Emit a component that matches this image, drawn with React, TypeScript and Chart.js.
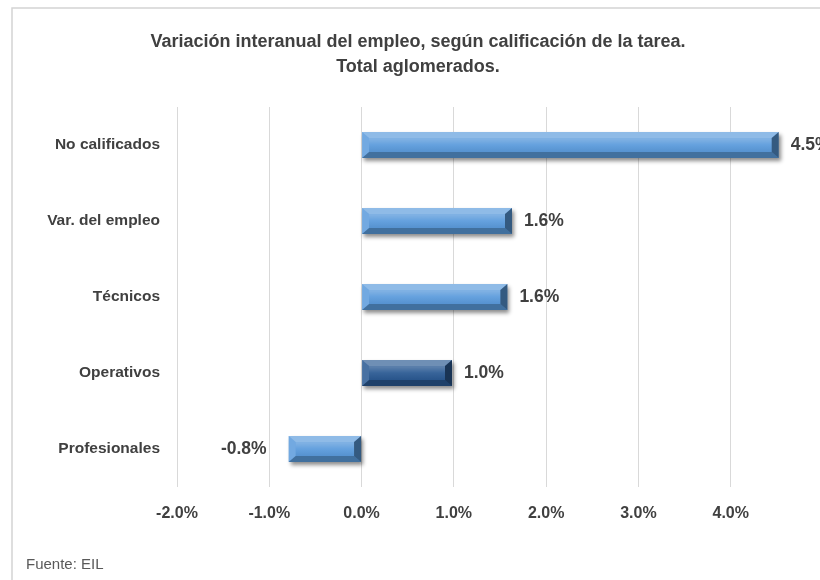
import React, { useEffect, useRef } from "react";
import { Chart, registerables } from "chart.js";

Chart.register(...registerables);

const categories = ["No calificados", "Var. del empleo", "Técnicos", "Operativos", "Profesionales"];
const values = [4.52, 1.63, 1.58, 0.98, -0.79];
const barColors = ["#5B9BDC", "#5B9BDC", "#5B9BDC", "#2B5A93", "#5B9BDC"];
const titleLines = ["Variación interanual del empleo, según calificación de la tarea.", "Total aglomerados."];
const sourceText = "Fuente: EIL";
const xMin = -2;
const xMax = 5;
const xStep = 1;

const FONT = "'Liberation Sans', Arial, sans-serif";
const TEXT = "#404040";
const CANVAS_W = 840;
const CANVAS_H = 580;

const framePlugin = {
  id: "frame",
  beforeDraw(chart: any) {
    const ctx = chart.ctx;
    ctx.save();
    ctx.fillStyle = "#ffffff";
    ctx.fillRect(0, 0, chart.width, chart.height);
    ctx.strokeStyle = "#D4D4D4";
    ctx.lineWidth = 1.5;
    ctx.beginPath();
    ctx.moveTo(12, chart.height);
    ctx.lineTo(12, 8);
    ctx.lineTo(chart.width, 8);
    ctx.stroke();
    // title
    ctx.fillStyle = TEXT;
    ctx.font = `bold 18px ${FONT}`;
    ctx.textAlign = "center";
    ctx.textBaseline = "middle";
    titleLines.forEach((line, i) => ctx.fillText(line, 418, 42 + i * 25));
    // source
    ctx.fillStyle = "#595959";
    ctx.font = `15px ${FONT}`;
    ctx.textAlign = "left";
    ctx.textBaseline = "alphabetic";
    ctx.fillText(sourceText, 26, 569);
    ctx.restore();
  },
};

const bevelPlugin = {
  id: "bevel",
  beforeDatasetDraw(chart: any) {
    const ctx = chart.ctx;
    ctx.save();
    ctx.shadowColor = "rgba(0,0,0,0.45)";
    ctx.shadowBlur = 4;
    ctx.shadowOffsetX = 2;
    ctx.shadowOffsetY = 3;
  },
  afterDatasetDraw(chart: any, args: any) {
    const ctx = chart.ctx;
    ctx.restore();
    const meta = args.meta;
    ctx.save();
    meta.data.forEach((el: any) => {
      const p = el.getProps(["x", "y", "base", "height"], true);
      const L = Math.min(p.x, p.base);
      const R = Math.max(p.x, p.base);
      const T = p.y - p.height / 2;
      const B = p.y + p.height / 2;
      const bw = Math.min(7, (R - L) / 2);
      const bh = Math.min(6, (B - T) / 2);
      const poly = (pts: number[][], fill: any) => {
        ctx.beginPath();
        ctx.moveTo(pts[0][0], pts[0][1]);
        for (let i = 1; i < pts.length; i++) ctx.lineTo(pts[i][0], pts[i][1]);
        ctx.closePath();
        ctx.fillStyle = fill;
        ctx.fill();
      };
      const g = ctx.createLinearGradient(0, T + bh, 0, B - bh);
      g.addColorStop(0, "rgba(255,255,255,0.25)");
      g.addColorStop(0.5, "rgba(255,255,255,0.06)");
      g.addColorStop(1, "rgba(0,0,0,0.06)");
      ctx.fillStyle = g;
      ctx.fillRect(L + bw, T + bh, R - L - 2 * bw, B - T - 2 * bh);
      poly([[L, T], [R, T], [R - bw, T + bh], [L + bw, T + bh]], "rgba(255,255,255,0.32)");
      poly([[L, T], [L + bw, T + bh], [L + bw, B - bh], [L, B]], "rgba(255,255,255,0.14)");
      poly([[L, B], [R, B], [R - bw, B - bh], [L + bw, B - bh]], "rgba(0,0,0,0.28)");
      poly([[R, T], [R - bw, T + bh], [R - bw, B - bh], [R, B]], "rgba(0,0,0,0.42)");
    });
    ctx.restore();
  },
  afterDatasetsDraw(chart: any) {
    const ctx = chart.ctx;
    const meta = chart.getDatasetMeta(0);
    ctx.save();
    ctx.fillStyle = TEXT;
    ctx.font = `bold 17.5px ${FONT}`;
    ctx.textBaseline = "middle";
    meta.data.forEach((el: any, i: number) => {
      const v = values[i];
      const p = el.getProps(["x", "y"], true);
      const txt = v.toFixed(1) + "%";
      if (v >= 0) {
        ctx.textAlign = "left";
        ctx.fillText(txt, p.x + 12, p.y);
      } else {
        ctx.textAlign = "right";
        ctx.fillText(txt, p.x - 22, p.y);
      }
    });
    ctx.restore();
  },
};

export default function App() {
  const ref = useRef<HTMLCanvasElement | null>(null);
  useEffect(() => {
    if (!ref.current) return;
    const chart = new Chart(ref.current, {
      type: "bar",
      data: {
        labels: categories,
        datasets: [
          {
            data: values,
            backgroundColor: barColors,
            borderWidth: 0,
            barPercentage: 0.34,
            categoryPercentage: 1,
          },
        ],
      },
      options: {
        indexAxis: "y",
        animation: false,
        responsive: false,
        devicePixelRatio: 1,
        layout: { padding: { left: 0, right: 17, top: 107, bottom: 0 } },
        plugins: {
          legend: { display: false },
          tooltip: { enabled: false },
          title: { display: false },
        },
        scales: {
          x: {
            type: "linear",
            min: xMin,
            max: xMax,
            ticks: {
              stepSize: xStep,
              color: TEXT,
              padding: 17,
              font: { family: FONT, size: 16, weight: "bold" },
              callback: (v: any) => (Number(v) >= xMax ? "" : Number(v).toFixed(1) + "%"),
            },
            grid: { color: "#D9D9D9", drawTicks: false },
            border: { display: false },
            afterFit: (s: any) => {
              s.height = 93;
            },
          },
          y: {
            ticks: {
              color: TEXT,
              padding: 17,
              font: { family: FONT, size: 15.5, weight: "bold" },
            },
            grid: { display: false, drawTicks: false },
            border: { display: false },
            afterFit: (s: any) => {
              s.width = 177;
            },
          },
        },
      },
      plugins: [framePlugin, bevelPlugin],
    });
    return () => chart.destroy();
  }, []);
  return (
    <div style={{ position: "absolute", left: 0, top: 0, width: 820, height: 580, overflow: "hidden", background: "#fff" }}>
      <div style={{ position: "relative", width: CANVAS_W, height: CANVAS_H }}>
        <canvas ref={ref} width={CANVAS_W} height={CANVAS_H} style={{ display: "block", width: CANVAS_W, height: CANVAS_H }} />
      </div>
    </div>
  );
}
